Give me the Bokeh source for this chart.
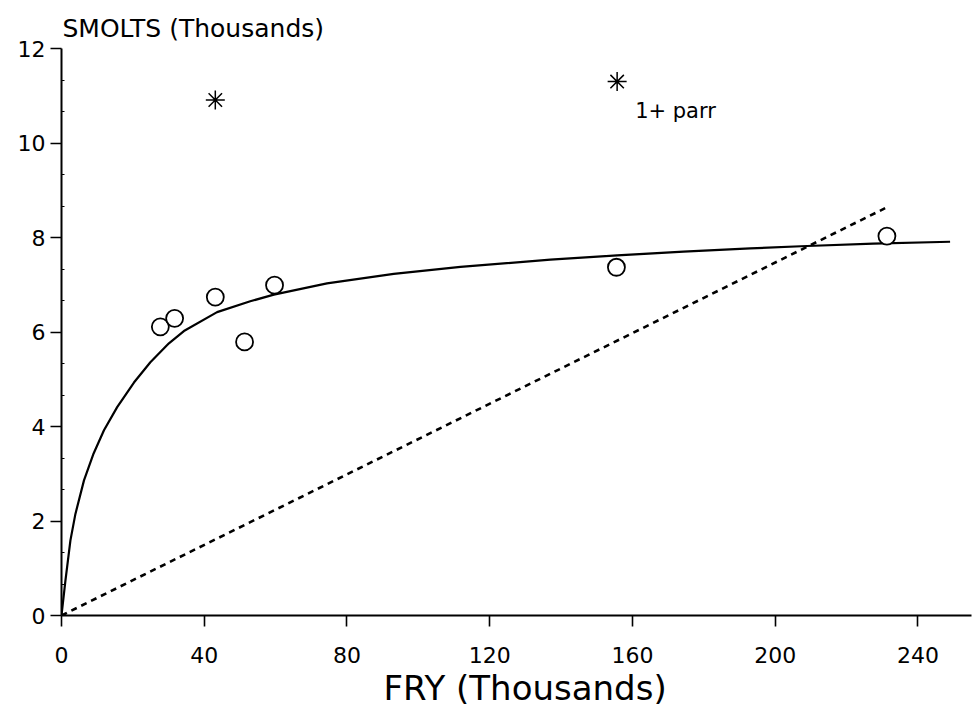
from bokeh.plotting import figure
from bokeh.models import Label, Range1d, FixedTicker, Title
from bokeh.embed import file_html
from bokeh.resources import INLINE

# Observed smolt production vs fry (thousands)
fry_obs = [27.7, 31.7, 43.1, 51.3, 59.7, 155.5, 231.3]
smolts_obs = [6.11, 6.29, 6.74, 5.79, 6.99, 7.37, 8.03]

# Years including 1+ parr (asterisks)
fry_parr = [43.1, 155.7]
smolts_parr = [10.91, 11.30]
parr_note = "1+ parr"

# Fitted recruitment curve
curve_fry = [0, 1.1, 2.5, 3.9, 6.3, 9.0, 11.9, 15.6, 20.3, 24.9, 30.1, 34.3, 43.6,
             52.9, 59.5, 74.4, 93.1, 111.8, 137, 155.7, 174.3, 193, 208.9, 227.5, 249]
curve_smolts = [0, 0.74, 1.59, 2.15, 2.86, 3.43, 3.92, 4.41, 4.93, 5.36, 5.76, 6.02, 6.42,
                6.65, 6.79, 7.03, 7.23, 7.38, 7.53, 7.62, 7.70, 7.77, 7.82, 7.87, 7.91]

# Replacement (dashed) line
repl_fry = [0, 230.8]
repl_smolts = [0, 8.62]

x_ticks = [0, 40, 80, 120, 160, 200, 240]
y_ticks = [0, 2, 4, 6, 8, 10, 12]
y_title = "SMOLTS (Thousands)"
x_title = "FRY (Thousands)"

FONT = "DejaVu Sans"

p = figure(width=979, height=707, x_range=Range1d(0, 255), y_range=Range1d(0, 12),
           output_backend="svg", toolbar_location=None,
           min_border_left=61, min_border_right=8, min_border_top=48, min_border_bottom=92)
p.title = Title(text=y_title, align="left", offset=1, standoff=12,
                text_font=FONT, text_font_size="25px", text_font_style="normal",
                text_color="black")
p.add_layout(Title(text=x_title, align="left", offset=322, standoff=0,
                   text_font=FONT, text_font_size="34px", text_font_style="normal",
                   text_color="black"), "below")
p.outline_line_color = None
p.xgrid.visible = False
p.ygrid.visible = False
p.background_fill_color = "white"
p.border_fill_color = "white"

for ax in (p.xaxis[0], p.yaxis[0]):
    ax.axis_line_color = "black"
    ax.axis_line_width = 2
    ax.major_tick_line_color = "black"
    ax.major_tick_line_width = 1.6
    ax.major_tick_in = 0
    ax.major_tick_out = 11
    ax.major_label_text_font = FONT
    ax.major_label_text_font_size = "22px"
    ax.major_label_text_color = "black"

p.xaxis[0].ticker = FixedTicker(ticks=x_ticks)
p.xaxis[0].minor_tick_line_color = None
p.xaxis[0].major_label_standoff = 20

p.yaxis[0].ticker = FixedTicker(ticks=y_ticks,
                                minor_ticks=[t + d for t in y_ticks[:-1] for d in (2/3, 4/3)])
p.yaxis[0].minor_tick_line_color = "black"
p.yaxis[0].minor_tick_in = 3
p.yaxis[0].minor_tick_out = 0
p.yaxis[0].major_label_standoff = 5

# Curve and dashed line
p.line(curve_fry, curve_smolts, line_color="black", line_width=2.2)
p.line(repl_fry, repl_smolts, line_color="black", line_width=2.6, line_dash="6 5")

# Points
p.scatter(fry_obs, smolts_obs, marker="circle", size=17, fill_color="white",
          line_color="black", line_width=1.8)
p.scatter(fry_parr, smolts_parr, marker="asterisk", size=19, line_color="black",
          line_width=1.5)

p.add_layout(Label(x=fry_parr[1], y=smolts_parr[1], x_offset=18, y_offset=-29,
                   text=parr_note, text_font=FONT, text_font_size="21px",
                   text_color="black", text_baseline="alphabetic"))

open("out.html", "w").write(file_html(p, INLINE))
